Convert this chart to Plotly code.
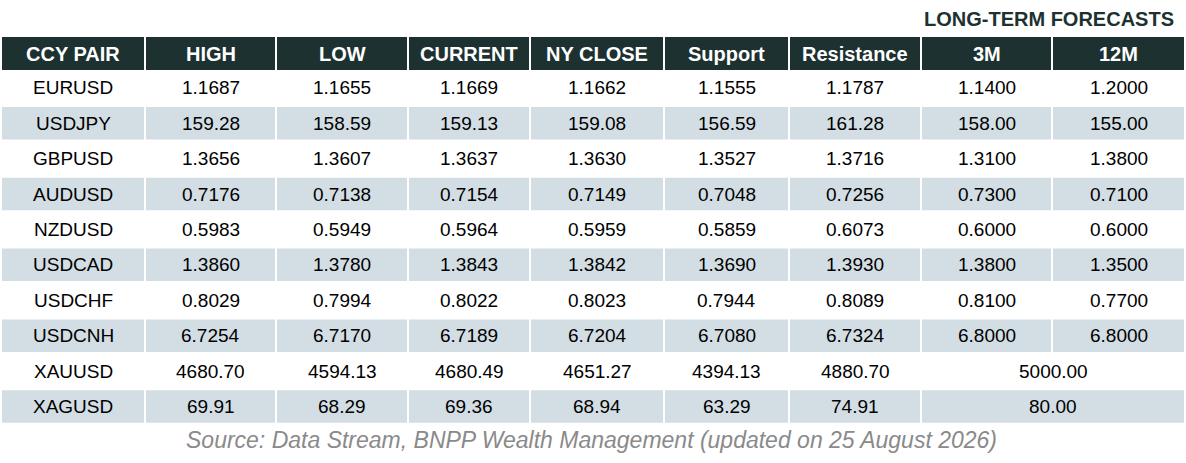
import plotly.graph_objects as go

# table content
columns = ["CCY PAIR", "HIGH", "LOW", "CURRENT", "NY CLOSE", "Support", "Resistance", "3M", "12M"]
pairs = ["EURUSD", "USDJPY", "GBPUSD", "AUDUSD", "NZDUSD", "USDCAD", "USDCHF", "USDCNH", "XAUUSD", "XAGUSD"]
high = ["1.1687", "159.28", "1.3656", "0.7176", "0.5983", "1.3860", "0.8029", "6.7254", "4680.70", "69.91"]
low = ["1.1655", "158.59", "1.3607", "0.7138", "0.5949", "1.3780", "0.7994", "6.7170", "4594.13", "68.29"]
current = ["1.1669", "159.13", "1.3637", "0.7154", "0.5964", "1.3843", "0.8022", "6.7189", "4680.49", "69.36"]
ny_close = ["1.1662", "159.08", "1.3630", "0.7149", "0.5959", "1.3842", "0.8023", "6.7204", "4651.27", "68.94"]
support = ["1.1555", "156.59", "1.3527", "0.7048", "0.5859", "1.3690", "0.7944", "6.7080", "4394.13", "63.29"]
resistance = ["1.1787", "161.28", "1.3716", "0.7256", "0.6073", "1.3930", "0.8089", "6.7324", "4880.70", "74.91"]
fc_3m = ["1.1400", "158.00", "1.3100", "0.7300", "0.6000", "1.3800", "0.8100", "6.8000", "5000.00", "80.00"]
fc_12m = ["1.2000", "155.00", "1.3800", "0.7100", "0.6000", "1.3500", "0.7700", "6.8000", None, None]  # None = merged with 3M

title = "LONG-TERM FORECASTS"
source = "Source: Data Stream, BNPP Wealth Management (updated on 25 August 2026)"

# styling
W, H = 1186, 463
col_widths = [142, 129, 130, 120, 132, 123, 130, 129, 131]
gap = 2
x0 = 2
header_top, header_bot = 37, 70
row_top0, row_pitch, row_h = 71.6, 35.4, 32.5
header_col = "#1c3130"
shade_col = "#d3dee4"
FONT = "Liberation Sans, Arial, sans-serif"

# column edges
lefts, rights = [], []
x = x0
for w in col_widths:
    lefts.append(x)
    rights.append(x + w)
    x += w + gap

table = [pairs, high, low, current, ny_close, support, resistance, fc_3m, fc_12m]

fig = go.Figure()
shapes = []
annotations = []

# header
for c, name in enumerate(columns):
    shapes.append(dict(type="rect", xref="x", yref="y", x0=lefts[c], x1=rights[c],
                       y0=header_top, y1=header_bot, fillcolor=header_col, line_width=0, layer="below"))
    annotations.append(dict(x=(lefts[c] + rights[c]) / 2, y=(header_top + header_bot) / 2,
                            xref="x", yref="y", text="<b>" + name + "</b>", showarrow=False,
                            font=dict(family=FONT, size=20, color="white")))

# body
for r in range(len(pairs)):
    top = row_top0 + r * row_pitch
    bot = top + row_h
    ymid = (top + bot) / 2
    c = 0
    while c < len(columns):
        span = 1
        if c + 1 < len(columns) and table[c + 1][r] is None:
            span = 2
        xl, xr = lefts[c], rights[c + span - 1]
        if r % 2 == 1:
            shapes.append(dict(type="rect", xref="x", yref="y", x0=xl, x1=xr, y0=top, y1=bot,
                               fillcolor=shade_col, line_width=0, layer="below"))
        annotations.append(dict(x=(xl + xr) / 2, y=ymid, xref="x", yref="y", text=table[c][r],
                                showarrow=False, font=dict(family=FONT, size=19, color="black")))
        c += span

# title and source
annotations.append(dict(x=1176, y=19, xref="x", yref="y", xanchor="right", text="<b>" + title + "</b>",
                        showarrow=False, font=dict(family=FONT, size=20, color=header_col)))
annotations.append(dict(x=591, y=440, xref="x", yref="y", text="<i>" + source + "</i>",
                        showarrow=False, font=dict(family=FONT, size=23, color="#8a8a8a")))

fig.update_layout(
    width=W, height=H,
    margin=dict(l=0, r=0, t=0, b=0),
    paper_bgcolor="white", plot_bgcolor="white",
    xaxis=dict(range=[0, W], visible=False, fixedrange=True),
    yaxis=dict(range=[H, 0], visible=False, fixedrange=True),
    shapes=shapes, annotations=annotations,
    showlegend=False,
)

# page body has a default 8px margin; drop it so the figure sits at the window origin
fig.write_html("out.html", config={"displayModeBar": False},
               post_script="document.body.style.margin='0';")
